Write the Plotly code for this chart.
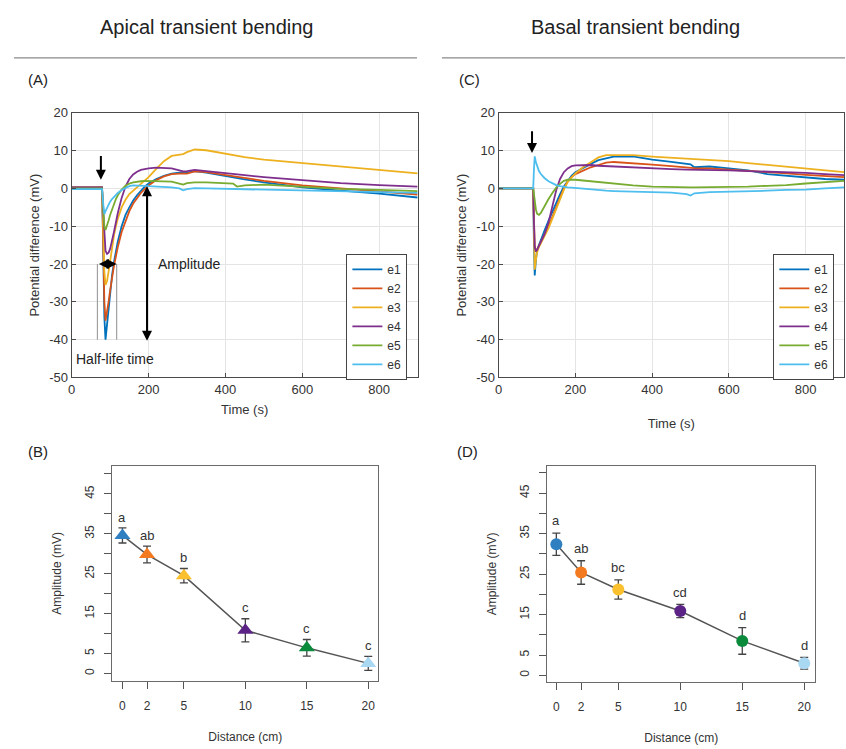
import plotly.graph_objects as go

W, H = 846, 749
def px(x):
    return x / W
def py(y):
    return 1 - y / H

FONT = "Liberation Sans, Arial, sans-serif"

# ---------------- data ----------------
electrodes = ["e1", "e2", "e3", "e4", "e5", "e6"]
line_colors = ["#0072BD", "#D95319", "#EDB120", "#7E2F8E", "#77AC30", "#4DBEEE"]

apical_time = [0, 50, 79, 82, 85, 88, 92, 96, 100, 105, 110, 115, 120, 130, 140, 150, 160, 170, 180, 190,
               200, 220, 240, 260, 280, 290, 300, 320, 350, 400, 420, 430, 450, 500, 600, 700, 800, 900]
apical_e1 = [0.3, 0.3, 0.3, -15, -34, -40, -36, -31, -27, -23, -19.5, -16.5, -14, -10, -7, -5, -3.2, -1.8, -0.6, 0.5,
             1.3, 2.5, 3.3, 3.9, 4.2, 4.3, 4.2, 4.6, 4.2, 3.2, 2.9, 2.7, 2.4, 1.6, 0.3, -0.6, -1.4, -2.4]
apical_e2 = [0.3, 0.3, 0.3, -14, -30, -35, -33, -30, -27, -23.5, -20.5, -18, -15.5, -11.5, -8.5, -6, -4, -2.5, -1.2, -0.2,
             0.8, 2.2, 3.2, 3.8, 4.0, 4.0, 3.9, 4.5, 4.3, 3.6, 3.3, 3.0, 2.8, 2.0, 0.8, 0, -0.7, -1.6]
apical_e3 = [0.2, 0.2, 0.2, -10, -22, -25.5, -24.5, -22, -19, -15.5, -12.5, -10, -8, -5, -3, -1.5, -0.6, 0.2, 1.0, 2.0,
             3.0, 5.2, 7.2, 8.6, 9.0, 9.1, 9.6, 10.3, 10.1, 9.1, 8.8, 8.6, 8.3, 7.6, 6.7, 5.7, 4.8, 4.0]
apical_e4 = [0.3, 0.3, 0.3, -6, -13, -16.5, -17.3, -17, -16, -14, -11.5, -9, -6.5, -2.5, 0.5, 2.5, 3.7, 4.4, 4.9, 5.1,
             5.3, 5.5, 5.5, 5.3, 4.8, 4.5, 4.6, 4.9, 4.6, 4.0, 3.8, 3.7, 3.5, 3.0, 2.1, 1.4, 0.9, 0.5]
apical_e5 = [0, 0, 0, -5, -10, -11, -10, -8.5, -7, -5.5, -4, -2.8, -1.8, -0.3, 0.7, 1.3, 1.6, 1.8, 1.9, 2.0,
             2.0, 2.0, 2.0, 1.8, 1.3, 1.0, 1.4, 1.6, 1.6, 1.5, 1.3, 0.5, 0.8, 1.0, 0.5, -0.1, -0.4, -0.7]
apical_e6 = [-0.2, -0.2, -0.2, -4, -6.8, -6, -5, -4.2, -3.5, -2.8, -2.2, -1.7, -1.2, -0.4, 0.2, 0.6, 0.8, 0.8, 0.8, 0.7,
             0.6, 0.5, 0.4, 0.3, 0, -0.5, -0.2, 0.1, 0, -0.1, -0.2, -0.2, -0.3, -0.4, -0.5, -0.7, -1.0, -1.2]

basal_time = [0, 50, 90, 92, 94, 97, 100, 105, 110, 115, 120, 130, 140, 150, 160, 170, 180, 190, 200, 220,
              240, 260, 280, 300, 350, 400, 450, 490, 500, 510, 550, 600, 650, 700, 750, 800, 850, 900]
basal_e1 = [0, 0, 0, -15, -23, -19, -16.5, -15, -13.5, -12.5, -11, -8.5, -6, -3.5, -1.5, 0.5, 2, 3.3, 4.3, 5.5,
            6.5, 7.5, 8, 8.4, 8.5, 7.6, 7, 6.6, 6.4, 5.6, 5.8, 5.3, 4.8, 3.8, 3.3, 2.8, 2.5, 2.3]
basal_e2 = [0, 0, 0, -8, -15, -16.8, -16.2, -15, -14, -13, -12, -10, -7.5, -5, -2, 0, 1.8, 3, 3.8, 4.8,
            5.6, 6.2, 6.8, 7, 6.7, 6.3, 5.9, 5.6, 5.5, 5.4, 5.3, 5.0, 4.8, 4.4, 4.0, 3.6, 3.3, 3.0]
basal_e3 = [0, 0, 0, -12, -21.5, -19, -17, -15.5, -14.5, -13.5, -12.5, -10.5, -8, -5.5, -2.5, -0.3, 1.8, 3, 4, 5.6,
            7, 8.2, 8.8, 8.8, 8.8, 8.4, 8.1, 7.8, 7.7, 7.6, 7.4, 7.2, 6.7, 6.2, 5.8, 5.4, 4.9, 4.3]
basal_e4 = [0, 0, 0, -9, -15.5, -16.7, -16.3, -15.2, -14, -13, -12, -9, -4.5, -0.5, 2.5, 4.3, 5.3, 5.9, 6.1, 6.2,
            6.2, 6, 5.9, 5.7, 5.5, 5.2, 5.1, 5.0, 5.0, 5.0, 4.9, 4.8, 4.6, 4.5, 4.3, 4.1, 3.8, 3.5]
basal_e5 = [0, 0, 0, -1.5, -3.5, -5.5, -6.7, -7, -6.5, -5.5, -4.5, -2.8, -1.2, 0.2, 1.2, 2, 2.3, 2.4, 2.3, 2.1,
            1.9, 1.7, 1.5, 1.3, 0.8, 0.5, 0.3, 0.3, 0.3, 0.3, 0.3, 0.5, 0.5, 0.7, 0.9, 1.3, 1.7, 2.0]
basal_e6 = [0, 0, 0, 5, 8.5, 7, 5.8, 4.6, 3.8, 3.2, 2.7, 1.9, 1.3, 0.9, 0.6, 0.4, 0.3, 0.2, 0.1, -0.1,
            -0.3, -0.5, -0.6, -0.7, -0.9, -1.0, -1.1, -1.5, -1.9, -1.3, -1.0, -0.9, -0.8, -0.6, -0.4, -0.3, 0, 0.3]

distances = [0, 2, 5, 10, 15, 20]
distance_labels = ["0", "2", "5", "10", "15", "20"]
point_colors = ["#2f7fc1", "#f47a20", "#fbc02d", "#5b2385", "#0b8a3c", "#a9d8f2"]

apical_amp = [34.6, 29.8, 24.5, 10.8, 6.4, 2.5]
apical_sem = [1.9, 2.1, 1.8, 2.9, 2.1, 1.75]
apical_letters = ["a", "ab", "b", "c", "c", "c"]

basal_amp = [32.4, 25.4, 21.2, 15.9, 8.5, 3.0]
basal_sem = [2.75, 2.9, 2.4, 1.65, 3.3, 1.45]
basal_letters = ["a", "ab", "bc", "cd", "d", "d"]

amp_ticks = [0, 5, 10, 15, 20, 25, 30, 35, 40, 45, 50]
amp_ticktext = ["0", "5", "", "15", "", "25", "", "35", "", "45", ""]

time_ticks = [0, 200, 400, 600, 800]
pd_ticks = [20, 10, 0, -10, -20, -30, -40, -50]
pd_ticktext = ["20", "10", "0", "-10", "-20", "-30", "-40", "-50"]

apical_series = [apical_e1, apical_e2, apical_e3, apical_e4, apical_e5, apical_e6]
basal_series = [basal_e1, basal_e2, basal_e3, basal_e4, basal_e5, basal_e6]

# ---------------- figure ----------------
fig = go.Figure()

for i, name in enumerate(electrodes):
    fig.add_trace(go.Scatter(x=apical_time, y=apical_series[i], mode="lines", name=name,
                             line=dict(color=line_colors[i], width=1.8),
                             xaxis="x", yaxis="y", legend="legend"))
for i, name in enumerate(electrodes):
    fig.add_trace(go.Scatter(x=basal_time, y=basal_series[i], mode="lines", name=name,
                             line=dict(color=line_colors[i], width=1.8),
                             xaxis="x2", yaxis="y2", legend="legend2"))

# panel B
fig.add_trace(go.Scatter(x=distances, y=apical_amp, mode="lines", line=dict(color="#555555", width=1.5),
                         showlegend=False, xaxis="x3", yaxis="y3", hoverinfo="skip"))
fig.add_trace(go.Scatter(x=distances, y=apical_amp, mode="markers",
                         marker=dict(symbol="triangle-up", size=14, color=point_colors, line=dict(width=0)),
                         error_y=dict(type="data", array=apical_sem, color="#444444", thickness=1.3, width=4),
                         showlegend=False, xaxis="x3", yaxis="y3"))
# panel D
fig.add_trace(go.Scatter(x=distances, y=basal_amp, mode="lines", line=dict(color="#555555", width=1.5),
                         showlegend=False, xaxis="x4", yaxis="y4", hoverinfo="skip"))
fig.add_trace(go.Scatter(x=distances, y=basal_amp, mode="markers",
                         marker=dict(symbol="circle", size=12, color=point_colors, line=dict(width=0)),
                         error_y=dict(type="data", array=basal_sem, color="#444444", thickness=1.3, width=4),
                         showlegend=False, xaxis="x4", yaxis="y4"))

ts_axis = dict(showgrid=True, gridcolor="#e4e4e4", gridwidth=1, showline=True, linecolor="#4a4a4a",
               linewidth=1, mirror=True, ticks="inside", ticklen=4, tickcolor="#4a4a4a",
               tickfont=dict(size=13, color="#333333", family=FONT), zeroline=False)
r_axis = dict(showgrid=False, showline=True, linecolor="#6a6a6a", linewidth=1.2, mirror=True,
              ticks="outside", ticklen=7, tickcolor="#555555", ticklabelstandoff=6,
              tickfont=dict(size=12, color="#333333", family=FONT), zeroline=False)

fig.update_layout(
    width=W, height=H, margin=dict(l=0, r=0, t=0, b=0),
    paper_bgcolor="white", plot_bgcolor="white",
    font=dict(family=FONT, color="#222222"),
    xaxis=dict(ts_axis, domain=[px(68), px(415.6)], range=[0, 900], tickvals=time_ticks, anchor="y",
               title=dict(text="Time (s)", font=dict(size=13, color="#333333"), standoff=8)),
    yaxis=dict(ts_axis, domain=[py(378), py(108)], range=[-50, 20], tickvals=pd_ticks, ticktext=pd_ticktext,
               anchor="x",
               title=dict(text="Potential difference (mV)", font=dict(size=13, color="#333333"), standoff=6)),
    xaxis2=dict(ts_axis, domain=[px(497), px(844)], range=[0, 900], tickvals=time_ticks, anchor="y2",
                title=dict(text="Time (s)", font=dict(size=13, color="#333333"), standoff=22)),
    yaxis2=dict(ts_axis, domain=[py(378), py(108)], range=[-50, 20], tickvals=pd_ticks, ticktext=pd_ticktext,
                anchor="x2",
                title=dict(text="Potential difference (mV)", font=dict(size=13, color="#333333"), standoff=6)),
    xaxis3=dict(r_axis, domain=[px(109), px(376)], range=[-0.81, 20.81], tickvals=distances,
                ticktext=distance_labels, anchor="y3",
                title=dict(text="Distance (cm)", font=dict(size=12, color="#333333"), standoff=20)),
    yaxis3=dict(r_axis, domain=[py(688), py(468)], range=[-1.97, 52.1], tickvals=amp_ticks,
                ticktext=amp_ticktext, tickangle=-90, anchor="x3",
                title=dict(text="Amplitude (mV)", font=dict(size=12, color="#333333"), standoff=18)),
    xaxis4=dict(r_axis, domain=[px(546), px(815)], range=[-0.72, 20.88], tickvals=distances,
                ticktext=distance_labels, anchor="y4",
                title=dict(text="Distance (cm)", font=dict(size=12, color="#333333"), standoff=20)),
    yaxis4=dict(r_axis, domain=[py(689), py(468)], range=[-1.7, 51.8], tickvals=amp_ticks,
                ticktext=amp_ticktext, tickangle=-90, anchor="x4",
                title=dict(text="Amplitude (mV)", font=dict(size=12, color="#333333"), standoff=18)),
    legend=dict(x=px(344), y=py(252), xanchor="left", yanchor="top", bgcolor="white",
                bordercolor="#444444", borderwidth=1, font=dict(size=12, color="#333333"),
                itemwidth=30, tracegroupgap=0),
    legend2=dict(x=px(773), y=py(252), xanchor="left", yanchor="top", bgcolor="white",
                 bordercolor="#444444", borderwidth=1, font=dict(size=12, color="#333333"),
                 itemwidth=30, tracegroupgap=0),
)

ann = []
# headings
ann.append(dict(text="Apical transient bending", x=px(203), y=py(20), xref="paper", yref="paper",
                xanchor="center", yanchor="middle",
                showarrow=False, font=dict(size=20, color="#222222")))
ann.append(dict(text="Basal transient bending", x=px(635), y=py(20), xref="paper", yref="paper",
                xanchor="center", yanchor="middle",
                showarrow=False, font=dict(size=20, color="#222222")))
# panel letters
for lab, xx, yy in [("(A)", 22, 74), ("(C)", 455, 74), ("(B)", 22, 454), ("(D)", 453, 454)]:
    ann.append(dict(text=lab, x=px(xx), y=py(yy), xref="paper", yref="paper", xanchor="left",
                    yanchor="middle", showarrow=False, font=dict(size=15, color="#222222")))
# panel A annotations
ann.append(dict(x=76, y=2.3, ax=76, ay=9, xref="x", yref="y", axref="x", ayref="y", text="",
                showarrow=True, arrowhead=2, arrowsize=1, arrowwidth=2, arrowcolor="black"))
ann.append(dict(x=117, y=-20, ax=67, ay=-20, xref="x", yref="y", axref="x", ayref="y", text="",
                showarrow=True, arrowhead=2, startarrowhead=2, arrowside="end+start",
                arrowsize=1, arrowwidth=2, arrowcolor="black"))
ann.append(dict(x=196, y=-40.3, ax=196, ay=1.0, xref="x", yref="y", axref="x", ayref="y", text="",
                showarrow=True, arrowhead=2, startarrowhead=2, arrowside="end+start",
                arrowsize=1, arrowwidth=2, arrowcolor="black"))
ann.append(dict(text="Amplitude", x=220, y=-20, xref="x", yref="y", xanchor="left", yanchor="middle",
                showarrow=False, font=dict(size=14, color="#222222")))
ann.append(dict(text="Half-life time", x=7, y=-45, xref="x", yref="y", xanchor="left", yanchor="middle",
                showarrow=False, font=dict(size=14, color="#222222")))
# panel C arrow
ann.append(dict(x=87, y=9.4, ax=87, ay=15.5, xref="x2", yref="y2", axref="x2", ayref="y2", text="",
                showarrow=True, arrowhead=2, arrowsize=1, arrowwidth=2, arrowcolor="black"))
# significance letters
for i in range(len(distances)):
    ann.append(dict(text=apical_letters[i], x=distances[i], y=apical_amp[i] + apical_sem[i] + 2.7,
                    xref="x3", yref="y3", xanchor="center", yanchor="middle", showarrow=False,
                    font=dict(size=13, color="#333333")))
    ann.append(dict(text=basal_letters[i], x=distances[i], y=basal_amp[i] + basal_sem[i] + 3.0,
                    xref="x4", yref="y4", xanchor="center", yanchor="middle", showarrow=False,
                    font=dict(size=13, color="#333333")))
fig.update_layout(annotations=ann)

shapes = [
    dict(type="line", xref="paper", yref="paper", x0=px(10), x1=px(415), y0=py(52), y1=py(52),
         line=dict(color="#8a8a8a", width=1.2)),
    dict(type="line", xref="paper", yref="paper", x0=px(440), x1=px(845), y0=py(52), y1=py(52),
         line=dict(color="#8a8a8a", width=1.2)),
    dict(type="line", xref="x", yref="y", x0=67, x1=67, y0=-20, y1=-40, line=dict(color="#a0a0a0", width=1.2)),
    dict(type="line", xref="x", yref="y", x0=117, x1=117, y0=-20, y1=-40, line=dict(color="#a0a0a0", width=1.2)),
]
fig.update_layout(shapes=shapes)

fig.write_html("out.html", config={"displayModeBar": False},
               post_script="document.body.style.margin='0';document.body.style.overflow='hidden';")
